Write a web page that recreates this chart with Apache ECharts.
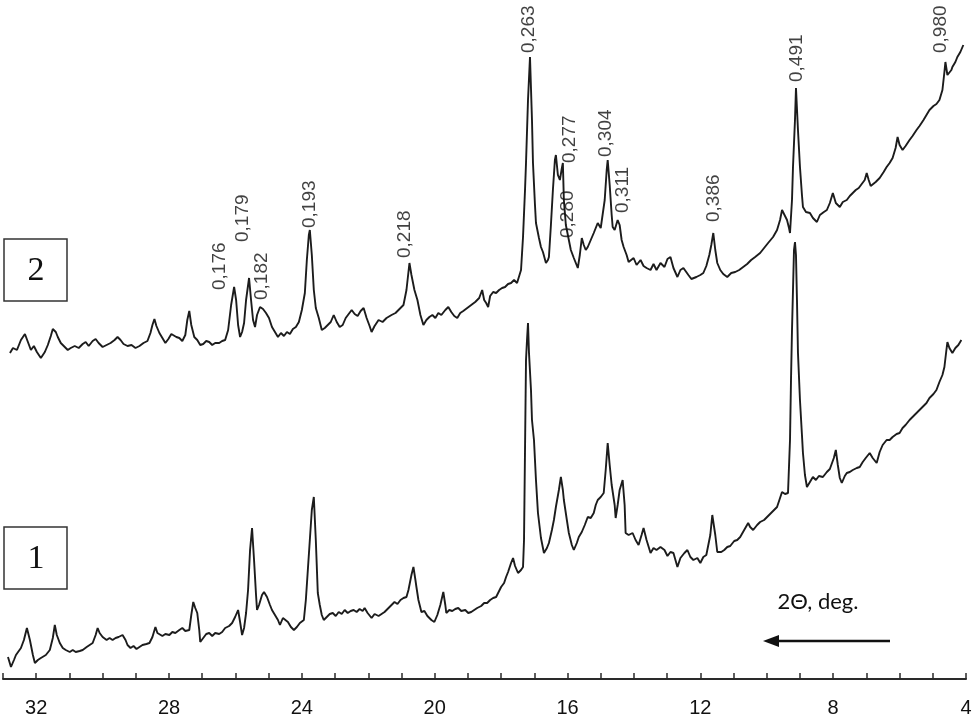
<!DOCTYPE html>
<html>
<head>
<meta charset="utf-8">
<script src="https://cdn.jsdelivr.net/npm/echarts@6/dist/echarts.min.js"></script>
<style>
  html, body { margin: 0; padding: 0; background: #fff; }
  #chart { width: 975px; height: 722px; }
</style>
</head>
<body>
<div id="chart"></div>
<script>
// pattern 1 (lower trace): 2theta, deg / intensity, a.u.
const theta1 = [32.85,32.76,32.67,32.61,32.55,32.46,32.37,32.28,32.19,32.10,32.04,31.95,31.86,31.80,31.71,31.59,31.50,31.44,31.38,31.29,31.20,31.11,30.99,30.90,30.81,30.69,30.60,30.48,30.39,30.30,30.21,30.15,30.09,30.00,29.88,29.79,29.70,29.61,29.52,29.40,29.31,29.25,29.16,29.07,28.98,28.89,28.80,28.68,28.59,28.50,28.41,28.35,28.29,28.20,28.11,27.99,27.90,27.81,27.69,27.60,27.51,27.39,27.33,27.27,27.21,27.15,27.09,27.06,26.97,26.88,26.79,26.70,26.61,26.49,26.40,26.31,26.19,26.10,26.01,25.92,25.86,25.80,25.74,25.68,25.62,25.56,25.50,25.44,25.38,25.35,25.29,25.20,25.14,25.05,24.96,24.90,24.81,24.72,24.66,24.57,24.51,24.42,24.33,24.24,24.15,24.06,23.94,23.88,23.82,23.76,23.70,23.64,23.58,23.52,23.46,23.40,23.34,23.25,23.16,23.07,22.98,22.89,22.80,22.71,22.62,22.53,22.44,22.35,22.26,22.17,22.11,22.02,21.90,21.81,21.69,21.60,21.51,21.42,21.33,21.21,21.12,21.03,20.94,20.85,20.79,20.70,20.64,20.58,20.55,20.49,20.40,20.31,20.22,20.10,20.01,19.92,19.83,19.74,19.68,19.65,19.56,19.47,19.38,19.29,19.20,19.08,18.99,18.90,18.81,18.72,18.60,18.51,18.42,18.33,18.24,18.15,18.09,18.00,17.91,17.85,17.79,17.70,17.64,17.58,17.49,17.40,17.34,17.31,17.28,17.25,17.22,17.19,17.16,17.10,17.07,17.01,16.95,16.89,16.80,16.71,16.62,16.56,16.47,16.41,16.35,16.26,16.20,16.14,16.11,16.02,15.96,15.87,15.81,15.72,15.66,15.57,15.48,15.39,15.30,15.21,15.15,15.09,15.00,14.91,14.85,14.79,14.73,14.67,14.64,14.58,14.55,14.49,14.43,14.34,14.28,14.25,14.16,14.04,13.95,13.86,13.77,13.71,13.62,13.50,13.41,13.32,13.20,13.08,12.99,12.90,12.81,12.75,12.69,12.60,12.48,12.39,12.30,12.21,12.09,12.00,11.91,11.82,11.76,11.70,11.64,11.61,11.55,11.49,11.46,11.37,11.28,11.19,11.10,10.98,10.89,10.80,10.68,10.56,10.50,10.41,10.29,10.20,10.08,9.99,9.90,9.78,9.69,9.60,9.54,9.45,9.36,9.30,9.27,9.24,9.21,9.18,9.15,9.12,9.09,9.06,9.00,8.94,8.91,8.85,8.79,8.70,8.61,8.52,8.43,8.31,8.19,8.10,8.04,7.98,7.92,7.86,7.80,7.74,7.65,7.59,7.50,7.41,7.29,7.20,7.11,7.02,6.90,6.81,6.69,6.60,6.51,6.39,6.30,6.21,6.09,6.00,5.91,5.82,5.70,5.61,5.52,5.40,5.28,5.19,5.10,4.98,4.89,4.80,4.71,4.65,4.59,4.56,4.50,4.41,4.32,4.23,4.14]
const int1 = [22,12,19,24,26,31,39,51,39,24,16,19,21,22,24,29,41,54,44,36,31,29,27,29,27,28,29,32,34,36,44,51,46,42,39,41,39,41,42,44,39,34,31,33,30,32,34,35,36,42,52,46,46,43,45,44,47,46,49,51,48,49,64,77,71,66,49,37,41,45,46,43,46,45,47,51,53,56,62,69,57,44,51,66,89,129,151,119,84,69,74,84,87,82,74,69,64,59,54,61,62,57,52,49,52,56,59,79,109,139,169,182,139,86,74,64,59,62,65,66,63,67,65,69,66,68,69,67,70,68,71,66,61,65,63,65,67,70,73,77,75,79,81,82,89,104,112,99,92,79,67,68,63,59,57,64,74,87,74,66,69,68,70,71,68,69,66,67,69,71,73,76,76,79,81,82,86,92,96,102,107,116,121,113,106,109,112,139,229,319,339,356,326,289,259,239,199,166,141,126,131,136,149,159,172,189,202,189,179,159,146,134,129,136,142,147,154,162,161,166,174,179,182,186,209,236,214,194,192,174,161,174,189,199,174,146,144,146,139,134,144,151,139,126,131,129,132,129,123,127,126,119,112,121,126,129,122,119,121,116,122,124,126,144,164,166,144,127,126,127,129,132,133,138,139,142,149,156,152,149,154,157,159,162,165,169,172,181,187,185,186,239,299,349,389,429,437,424,379,326,279,244,226,204,192,197,202,199,203,202,207,210,212,221,229,214,201,196,203,206,207,209,211,212,217,221,226,221,216,227,234,239,239,242,245,246,251,254,259,262,265,269,273,276,281,285,289,297,304,312,329,337,331,326,331,334,339]

// pattern 2 (upper trace), shifted up on the same scale
const theta2 = [32.79,32.70,32.58,32.46,32.34,32.25,32.16,32.07,31.98,31.86,31.74,31.65,31.56,31.50,31.41,31.35,31.26,31.14,31.05,30.96,30.84,30.72,30.60,30.51,30.42,30.30,30.21,30.12,30.00,29.88,29.76,29.64,29.55,29.46,29.37,29.25,29.13,29.01,28.89,28.77,28.65,28.56,28.50,28.44,28.38,28.29,28.20,28.11,28.02,27.93,27.87,27.78,27.69,27.60,27.51,27.45,27.39,27.33,27.24,27.15,27.06,26.97,26.88,26.79,26.70,26.61,26.49,26.40,26.31,26.22,26.13,26.04,25.98,25.92,25.86,25.80,25.74,25.68,25.59,25.53,25.47,25.41,25.35,25.26,25.17,25.08,24.99,24.90,24.81,24.72,24.63,24.54,24.45,24.36,24.27,24.18,24.09,24.00,23.91,23.85,23.79,23.76,23.70,23.64,23.58,23.49,23.40,23.31,23.22,23.13,23.04,22.95,22.86,22.77,22.68,22.59,22.50,22.41,22.32,22.23,22.14,22.05,21.96,21.90,21.81,21.69,21.57,21.45,21.30,21.18,21.06,20.94,20.85,20.76,20.70,20.61,20.52,20.43,20.34,20.25,20.16,20.07,19.98,19.89,19.80,19.68,19.59,19.50,19.41,19.32,19.23,19.14,19.02,18.90,18.78,18.66,18.57,18.51,18.45,18.39,18.33,18.24,18.15,18.06,17.97,17.88,17.79,17.70,17.61,17.52,17.46,17.40,17.34,17.28,17.25,17.19,17.13,17.07,17.04,16.98,16.95,16.86,16.80,16.74,16.65,16.59,16.56,16.50,16.44,16.38,16.35,16.29,16.23,16.17,16.14,16.11,16.05,15.96,15.90,15.81,15.75,15.69,15.63,15.57,15.51,15.45,15.39,15.30,15.21,15.15,15.09,15.00,14.94,14.88,14.82,14.79,14.73,14.67,14.64,14.58,14.49,14.43,14.37,14.31,14.22,14.16,14.10,14.01,13.92,13.80,13.71,13.62,13.50,13.41,13.32,13.20,13.08,12.99,12.90,12.81,12.69,12.60,12.51,12.45,12.36,12.27,12.21,12.12,12.00,11.91,11.82,11.73,11.67,11.61,11.55,11.49,11.40,11.31,11.19,11.07,10.95,10.83,10.71,10.59,10.47,10.35,10.20,10.08,9.96,9.81,9.69,9.60,9.54,9.48,9.39,9.33,9.30,9.24,9.21,9.15,9.12,9.06,9.00,8.94,8.91,8.82,8.70,8.61,8.49,8.40,8.28,8.19,8.10,8.01,7.92,7.80,7.71,7.59,7.50,7.41,7.32,7.23,7.14,7.05,6.99,6.93,6.87,6.81,6.72,6.60,6.48,6.39,6.30,6.21,6.12,6.06,6.00,5.91,5.82,5.70,5.61,5.49,5.40,5.28,5.19,5.10,4.98,4.89,4.80,4.71,4.65,4.62,4.56,4.50,4.44,4.41,4.32,4.26,4.17,4.08]
const int2 = [326,331,329,339,345,337,329,333,327,321,327,334,343,350,347,342,336,332,329,331,333,331,335,337,333,338,340,336,332,334,336,339,342,339,335,333,334,331,333,336,338,346,354,360,353,346,341,336,340,345,346,342,341,338,344,359,368,354,342,339,334,335,338,337,334,336,336,338,339,349,374,392,379,354,342,347,356,379,401,379,359,352,364,372,370,366,361,352,347,342,346,343,347,345,350,352,357,369,386,419,444,449,424,389,371,361,349,351,354,357,364,357,352,354,361,365,369,365,363,368,371,361,353,347,353,359,357,361,364,366,370,374,389,416,404,389,379,364,354,359,362,364,361,366,364,369,372,367,363,361,366,368,371,374,377,381,389,379,376,372,383,387,386,389,391,392,395,396,399,396,394,409,442,489,516,579,622,559,516,474,456,441,432,427,416,419,422,454,489,519,524,504,499,511,516,479,454,439,429,421,416,411,424,441,434,429,432,439,446,451,456,451,449,479,509,519,494,464,452,449,459,454,439,432,424,417,416,421,414,419,413,411,409,415,409,416,412,420,422,411,402,409,411,412,404,400,399,402,404,406,413,424,434,446,429,416,409,405,402,406,407,409,412,415,419,422,426,431,436,442,449,459,469,465,459,451,446,479,512,559,591,549,512,484,472,467,466,461,457,464,467,469,476,486,476,472,477,479,483,486,489,491,495,499,506,499,493,492,497,501,507,512,516,521,531,542,534,529,533,539,543,549,553,559,564,569,573,575,579,589,607,617,604,602,609,612,617,622,627,634]

// interplanar spacings marked on pattern 2 (nm), with the 2theta and level each label stands at
const peakText = ['0,176','0,179','0,182','0,193','0,218','0,263','0,277','0,280','0,304','0,311','0,386','0,491','0,980']
const peakTheta = [26.46,25.77,25.20,23.76,20.91,17.16,15.93,15.99,14.85,14.34,11.61,9.09,4.77]
const peakLevel = [389,437,379,451,421,626,516,441,522,466,457,597,626]

const tickLabels = [32,28,24,20,16,12,8,4]

const chart = echarts.init(document.getElementById('chart'))

const toPairs = (xs, ys) => xs.map((x, i) => [x, ys[i]])
const lineStyle = { color: '#1c1c1c', width: 1.9 }

chart.setOption({
  animation: false,
  backgroundColor: '#fff',
  grid: { left: 0, right: 9, top: 0, bottom: 43 },
  xAxis: {
    type: 'value',
    inverse: true,
    min: 4,
    max: 33,
    interval: 1,
    axisLine: { lineStyle: { color: '#2a2a2a', width: 2 } },
    axisTick: { inside: true, length: 6, lineStyle: { color: '#2a2a2a', width: 1.5 } },
    axisLabel: {
      margin: 19,
      fontSize: 20,
      fontFamily: 'Liberation Sans',
      color: '#111',
      formatter: (v) => (tickLabels.includes(v) ? String(v) : '')
    },
    splitLine: { show: false }
  },
  yAxis: { type: 'value', min: 0, max: 679, show: false },
  series: [
    {
      type: 'line',
      data: toPairs(theta1, int1),
      showSymbol: false,
      lineStyle: lineStyle
    },
    {
      type: 'line',
      data: toPairs(theta2, int2),
      showSymbol: false,
      lineStyle: lineStyle
    },
    {
      type: 'scatter',
      symbolSize: 1,
      itemStyle: { color: 'rgba(0,0,0,0)' },
      data: peakText.map((t, i) => ({ name: t, value: [peakTheta[i], peakLevel[i]] })),
      label: {
        show: true,
        position: 'inside',
        align: 'left',
        verticalAlign: 'middle',
        rotate: 90,
        formatter: '{b}',
        fontSize: 19,
        fontFamily: 'Liberation Sans',
        color: '#111'
      },
      z: 5
    }
  ],
  graphic: [
    {
      type: 'rect',
      shape: { x: 4, y: 239, width: 63, height: 62 },
      style: { fill: '#fff', stroke: '#333', lineWidth: 1.5 }
    },
    {
      type: 'text',
      x: 36, y: 271,
      style: { text: '2', font: '34px "Liberation Serif"', fill: '#111', align: 'center', verticalAlign: 'middle' }
    },
    {
      type: 'rect',
      shape: { x: 4, y: 527, width: 63, height: 62 },
      style: { fill: '#fff', stroke: '#333', lineWidth: 1.5 }
    },
    {
      type: 'text',
      x: 36, y: 559,
      style: { text: '1', font: '34px "Liberation Serif"', fill: '#111', align: 'center', verticalAlign: 'middle' }
    },
    {
      type: 'text',
      x: 818, y: 602,
      style: { text: '2\u0398, deg.', font: '22px Lato', fill: '#111', align: 'center', verticalAlign: 'middle' }
    },
    {
      type: 'line',
      shape: { x1: 775, y1: 641, x2: 890, y2: 641 },
      style: { stroke: '#111', lineWidth: 2.5 }
    },
    {
      type: 'polygon',
      shape: { points: [[763, 641], [779, 635], [779, 647]] },
      style: { fill: '#111' }
    }
  ]
})
</script>
</body>
</html>
